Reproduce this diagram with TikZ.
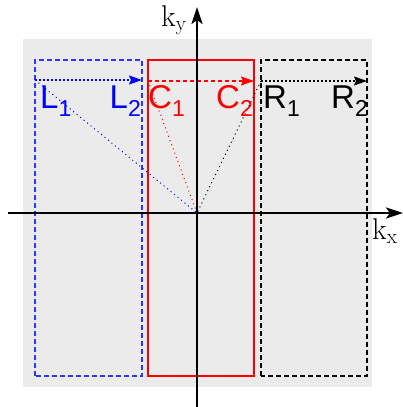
\documentclass[tikz,border=0pt]{standalone}
\usepackage{fontspec}
\newfontfamily\labsans{Liberation Sans}
\usetikzlibrary{arrows.meta}
\definecolor{bgray}{RGB}{235,235,235}
\newcommand\reglab[2]{\labsans\fontsize{33}{33}\selectfont #1\raisebox{-7.5pt}{\fontsize{23}{23}\selectfont #2}}
\tikzset{
  regionbox/.style={line width=1.3pt, dash pattern=on 5pt off 3pt},
  centerbox/.style={line width=2pt, draw=red},
  sweeparrow/.style={line width=1.3pt, -{Stealth[length=13pt,width=9pt,inset=2pt]}},
  rayline/.style={line width=1pt, dash pattern=on 1pt off 3.5pt},
  axisline/.style={line width=2.6pt, -{Stealth[length=17pt,width=11pt,inset=4pt]}},
  reglabel/.style={inner sep=0pt},
  axlabel/.style={inner sep=0pt, font=\fontsize{30}{30}\selectfont}
}
\begin{document}
\begin{tikzpicture}[x=1pt,y=1pt]
\useasboundingbox (0,0) rectangle (403,407);
\fill[bgray] (23,20) rectangle (372,368);
% boxes
\draw[regionbox, draw=blue!80] (35,31) rectangle (142,347);
\draw[regionbox, draw=black] (261,31) rectangle (367,347);
\draw[centerbox] (148,31) rectangle (254,347);
% coordinates
\coordinate (O) at (197,194);
\coordinate (Ls) at (35,327);
\coordinate (Le) at (142,327);
\coordinate (Cs) at (148,326);
\coordinate (Ce) at (254,326);
\coordinate (Rs) at (261,326);
\coordinate (Re) at (367,326);
% rays to origin
\draw[rayline, blue] (Ls) -- (O);
\draw[rayline, red] (Cs) -- (O);
\draw[rayline, black] (Rs) -- (O);
% sweep arrows
\draw[sweeparrow, blue, dash pattern=on 1.5pt off 2.5pt] (Ls) -- (Le);
\draw[sweeparrow, red, dash pattern=on 4pt off 3pt] (Cs) -- (Ce);
\draw[sweeparrow, black, dash pattern=on 1.5pt off 2.5pt] (Rs) -- (Re);
% labels
\node[reglabel, anchor=base west, text=blue] (L1) at (40,298) {\reglab{L}{1}};
\node[reglabel, anchor=base east, text=blue] (L2) at (141,298) {\reglab{L}{2}};
\node[reglabel, anchor=base west, text=red] (C1) at (148,298) {\reglab{C}{1}};
\node[reglabel, anchor=base east, text=red] (C2) at (253,298) {\reglab{C}{2}};
\node[reglabel, anchor=base west] (R1) at (263,298) {\reglab{R}{1}};
\node[reglabel, anchor=base east] (R2) at (368,298) {\reglab{R}{2}};
% axes
\coordinate (yb) at (197,0);
\coordinate (yt) at (197,400);
\coordinate (xl) at (8,194);
\coordinate (xr) at (403,194);
\draw[axisline] (yb) -- (yt);
\draw[axisline] (xl) -- (xr);
\node[axlabel, anchor=base west] (ky) at (161,380) {$\mathrm{k}_\mathrm{y}$};
\node[axlabel, anchor=base west] (kx) at (372,167) {$\mathrm{k}_\mathrm{x}$};
\end{tikzpicture}
\end{document}
